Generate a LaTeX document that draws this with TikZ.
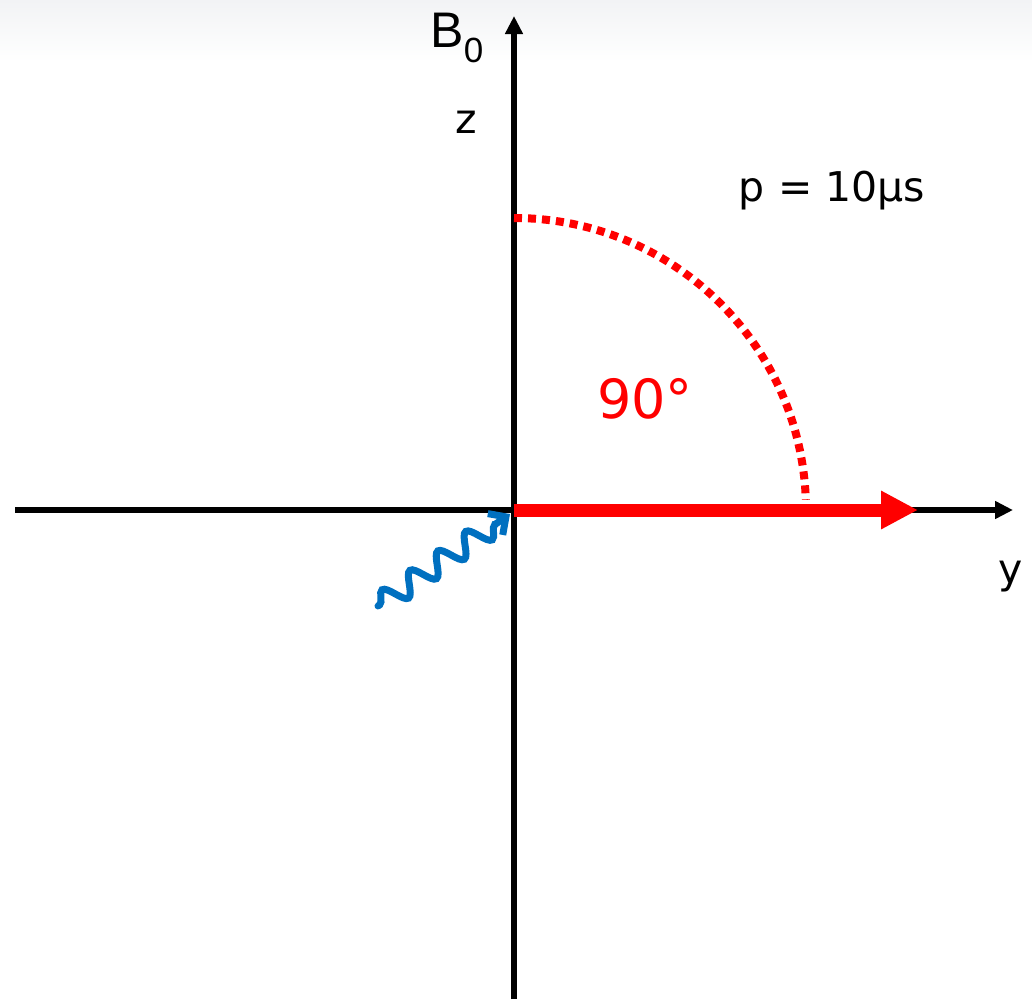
\documentclass[tikz,border=0pt]{standalone}
\usepackage{fontspec}
\setmainfont{DejaVu Sans}
\newfontfamily\arialfont{Liberation Sans}
\usetikzlibrary{arrows.meta,decorations.pathmorphing}
\definecolor{wave}{HTML}{0070C0}
\definecolor{topgray}{HTML}{F2F3F5}
\begin{document}
\begin{tikzpicture}[x=1pt,y=-1pt,
  axis/.style={line width=6pt,-{Triangle[length=18pt,width=17pt]}},
  vec/.style={red,line width=13pt,-{Triangle[length=37pt,width=36pt]}},
  dotarc/.style={red,line width=8pt,dash pattern=on 8pt off 6pt},
  lbl/.style={inner sep=0pt,font=\fontsize{41}{48}\selectfont},
  wavy/.style={wave,line width=7pt,line cap=round,-{Straight Barb[length=13pt,width=26pt]},
    decorate,decoration={snake,amplitude=11pt,segment length=34pt,post length=14pt,pre length=2pt}}]
\useasboundingbox (0,0) rectangle (1032,999);
\shade[top color=topgray,bottom color=white] (0,0) rectangle (1032,62);
\coordinate (O) at (514,510);
\coordinate (ztop) at (514,16);
\coordinate (zbot) at (514,999);
\coordinate (yleft) at (15,510);
\coordinate (yright) at (1013,510);
\coordinate (vtip) at (918,510);
\coordinate (wstart) at (378,606);
\coordinate (wend) at (510,514);
\draw[line width=6pt] (zbot) -- (O);
\draw[axis] (O) -- (ztop);
\draw[line width=6pt] (yleft) -- (O);
\draw[axis] (O) -- (yright);
\draw[dotarc] (514,218) arc[start angle=-90,end angle=-2,radius=292];
\draw[vec] (O) -- (vtip);
\draw[wavy] (wstart) -- (wend);
\node[lbl,font=\arialfont\fontsize{50}{60}\selectfont,anchor=base east] (B0) at (484,47) {B\textsubscript{0}};
\node[lbl,anchor=base] (zl) at (466,133) {z};
\node[lbl,anchor=base] (yl) at (1011,583) {y};
\node[lbl,anchor=base] (pl) at (832,201) {p = 10µs};
\node[lbl,red,font=\fontsize{54}{64}\selectfont,anchor=base] (ang) at (645,418) {90°};
\end{tikzpicture}
\end{document}
